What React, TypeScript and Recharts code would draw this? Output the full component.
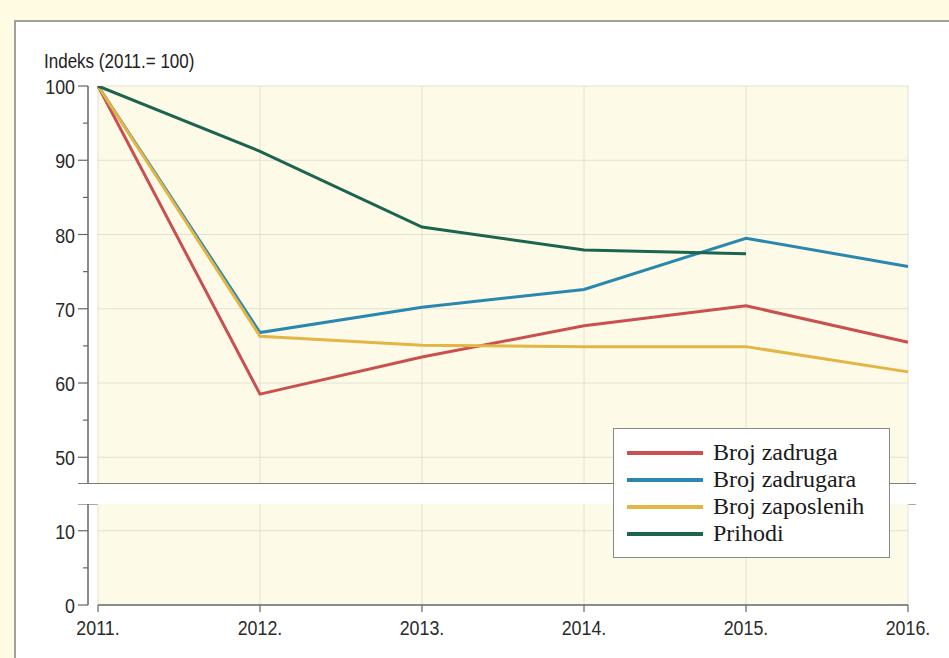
import { CartesianGrid, Legend, Line, LineChart, XAxis, YAxis } from "recharts"

const years = ["2011.", "2012.", "2013.", "2014.", "2015.", "2016."]
const brojZadruga = [100, 58.5, 63.5, 67.7, 70.4, 65.5]
const brojZadrugara = [100, 66.8, 70.2, 72.6, 79.5, 75.7]
const brojZaposlenih = [100, 66.3, 65.1, 64.9, 64.9, 61.5]
const prihodi: (number | null)[] = [100, 91.2, 81.0, 77.9, 77.4, null]

const upperTicks = [50, 55, 60, 65, 70, 75, 80, 85, 90, 95, 100]
const upperGrid = [50, 60, 70, 80, 90, 100]
const lowerTicks = [0, 5, 10]
const lowerGrid = [10]

const series = [
  { key: "zadruga", name: "Broj zadruga", color: "#c9504e" },
  { key: "zadrugara", name: "Broj zadrugara", color: "#2a88ae" },
  { key: "zaposlenih", name: "Broj zaposlenih", color: "#e2b545" },
  { key: "prihodi", name: "Prihodi", color: "#1d6450" },
]

const data = years.map((year, i) => ({
  year,
  zadruga: brojZadruga[i],
  zadrugara: brojZadrugara[i],
  zaposlenih: brojZaposlenih[i],
  prihodi: prihodi[i],
}))

// narrow fonts are not available, so the sans text is squeezed horizontally
const font = "'Liberation Sans', Arial, sans-serif"
const squeeze = 0.85
const plotFill = "#fdfbe8"
const gridColor = "#e4e0cf"
const axisColor = "#666"

function YTick(props: any) {
  const { x, y, payload } = props
  const major = payload.value % 10 === 0
  return (
    <g>
      <line x1={x - (major ? 20 : 15)} x2={x - 10} y1={y} y2={y} stroke={axisColor} strokeWidth={1.2} />
      {major && (
        <text
          transform={`translate(${x - 23},${y + 8}) scale(${squeeze},1)`}
          textAnchor="end"
          fontSize={21}
          fill="#2a2a2a"
          fontFamily={font}
        >
          {payload.value}
        </text>
      )}
    </g>
  )
}

function XTick(props: any) {
  const { x, y, payload } = props
  return (
    <text
      transform={`translate(${x},${y + 21}) scale(${squeeze},1)`}
      textAnchor="middle"
      fontSize={21}
      fill="#2a2a2a"
      fontFamily={font}
    >
      {payload.value}
    </text>
  )
}

function LegendBox() {
  return (
    <div
      style={{
        border: "1px solid #8a8a8a",
        background: "#fff",
        padding: "10px 12px 10px 13px",
        boxSizing: "border-box",
        width: 277,
        height: 130,
      }}
    >
      {series.map((s) => (
        <div key={s.key} style={{ display: "flex", alignItems: "center", height: 27 }}>
          <div style={{ width: 76, height: 4, background: s.color, marginRight: 10 }} />
          <span style={{ fontFamily: "'Liberation Serif', 'Times New Roman', serif", fontSize: 24, color: "#1a1a1a", lineHeight: "27px" }}>
            {s.name}
          </span>
        </div>
      ))}
    </div>
  )
}

export default function App() {
  return (
    <div style={{ position: "absolute", left: 0, top: 0, width: 949, height: 658, background: "#fffce3", overflow: "hidden" }}>
      <div
        style={{
          position: "absolute",
          left: 14,
          top: 20,
          width: 960,
          height: 700,
          background: "#fff",
          border: "2px solid #a0a0a0",
        }}
      />
      <div
        style={{
          position: "absolute",
          left: 44,
          top: 50,
          fontFamily: font,
          fontSize: 20,
          color: "#222",
          whiteSpace: "nowrap",
          transform: `scaleX(${squeeze})`,
          transformOrigin: "left center",
        }}
      >
        Indeks (2011.= 100)
      </div>

      {/* upper segment with the series */}
      <div style={{ position: "absolute", left: 0, top: 0 }}>
        <LineChart width={949} height={484} data={data} margin={{ top: 86, right: 41, bottom: 0, left: 0 }}>
          <CartesianGrid stroke={gridColor} fill={plotFill} horizontalValues={upperGrid} />
          <XAxis dataKey="year" hide />
          <YAxis
            type="number"
            domain={[46.4, 100]}
            ticks={upperTicks}
            interval={0}
            width={98}
            tickSize={0}
            tickMargin={0}
            tickLine={false}
            tick={<YTick />}
            axisLine={{ stroke: axisColor, strokeWidth: 1.5, transform: "translate(-10,0)" }}
            allowDataOverflow
          />
          {series.map((s) => (
            <Line
              key={s.key}
              type="linear"
              dataKey={s.key}
              name={s.name}
              stroke={s.color}
              strokeWidth={3}
              dot={false}
              activeDot={false}
              isAnimationActive={false}
            />
          ))}
        </LineChart>
      </div>

      {/* axis break */}
      <div style={{ position: "absolute", left: 78, top: 483, width: 838, height: 1, background: "#7d7d7d" }} />
      <div style={{ position: "absolute", left: 78, top: 504, width: 838, height: 1, background: "#a9a9a9" }} />

      {/* lower segment with x axis and legend */}
      <div style={{ position: "absolute", left: 0, top: 0 }}>
        <LineChart width={949} height={658} data={data} margin={{ top: 504, right: 41, bottom: 23, left: 0 }}>
          <CartesianGrid stroke={gridColor} fill={plotFill} horizontalValues={lowerGrid} />
          <XAxis
            dataKey="year"
            tick={<XTick />}
            tickSize={7}
            tickMargin={2}
            height={30}
            axisLine={{ stroke: axisColor, strokeWidth: 1.5 }}
            tickLine={{ stroke: axisColor, strokeWidth: 1.2 }}
            interval={0}
          />
          <YAxis
            type="number"
            domain={[0, 13.6]}
            ticks={lowerTicks}
            interval={0}
            width={98}
            tickSize={0}
            tickMargin={0}
            tickLine={false}
            tick={<YTick />}
            axisLine={{ stroke: axisColor, strokeWidth: 1.5, transform: "translate(-10,0)" }}
            allowDataOverflow
          />
          <Legend
            layout="vertical"
            align="center"
            verticalAlign="middle"
            content={() => <LegendBox />}
            wrapperStyle={{ left: 613, top: 428, width: 277, height: 130 }}
          />
        </LineChart>
      </div>
    </div>
  )
}
